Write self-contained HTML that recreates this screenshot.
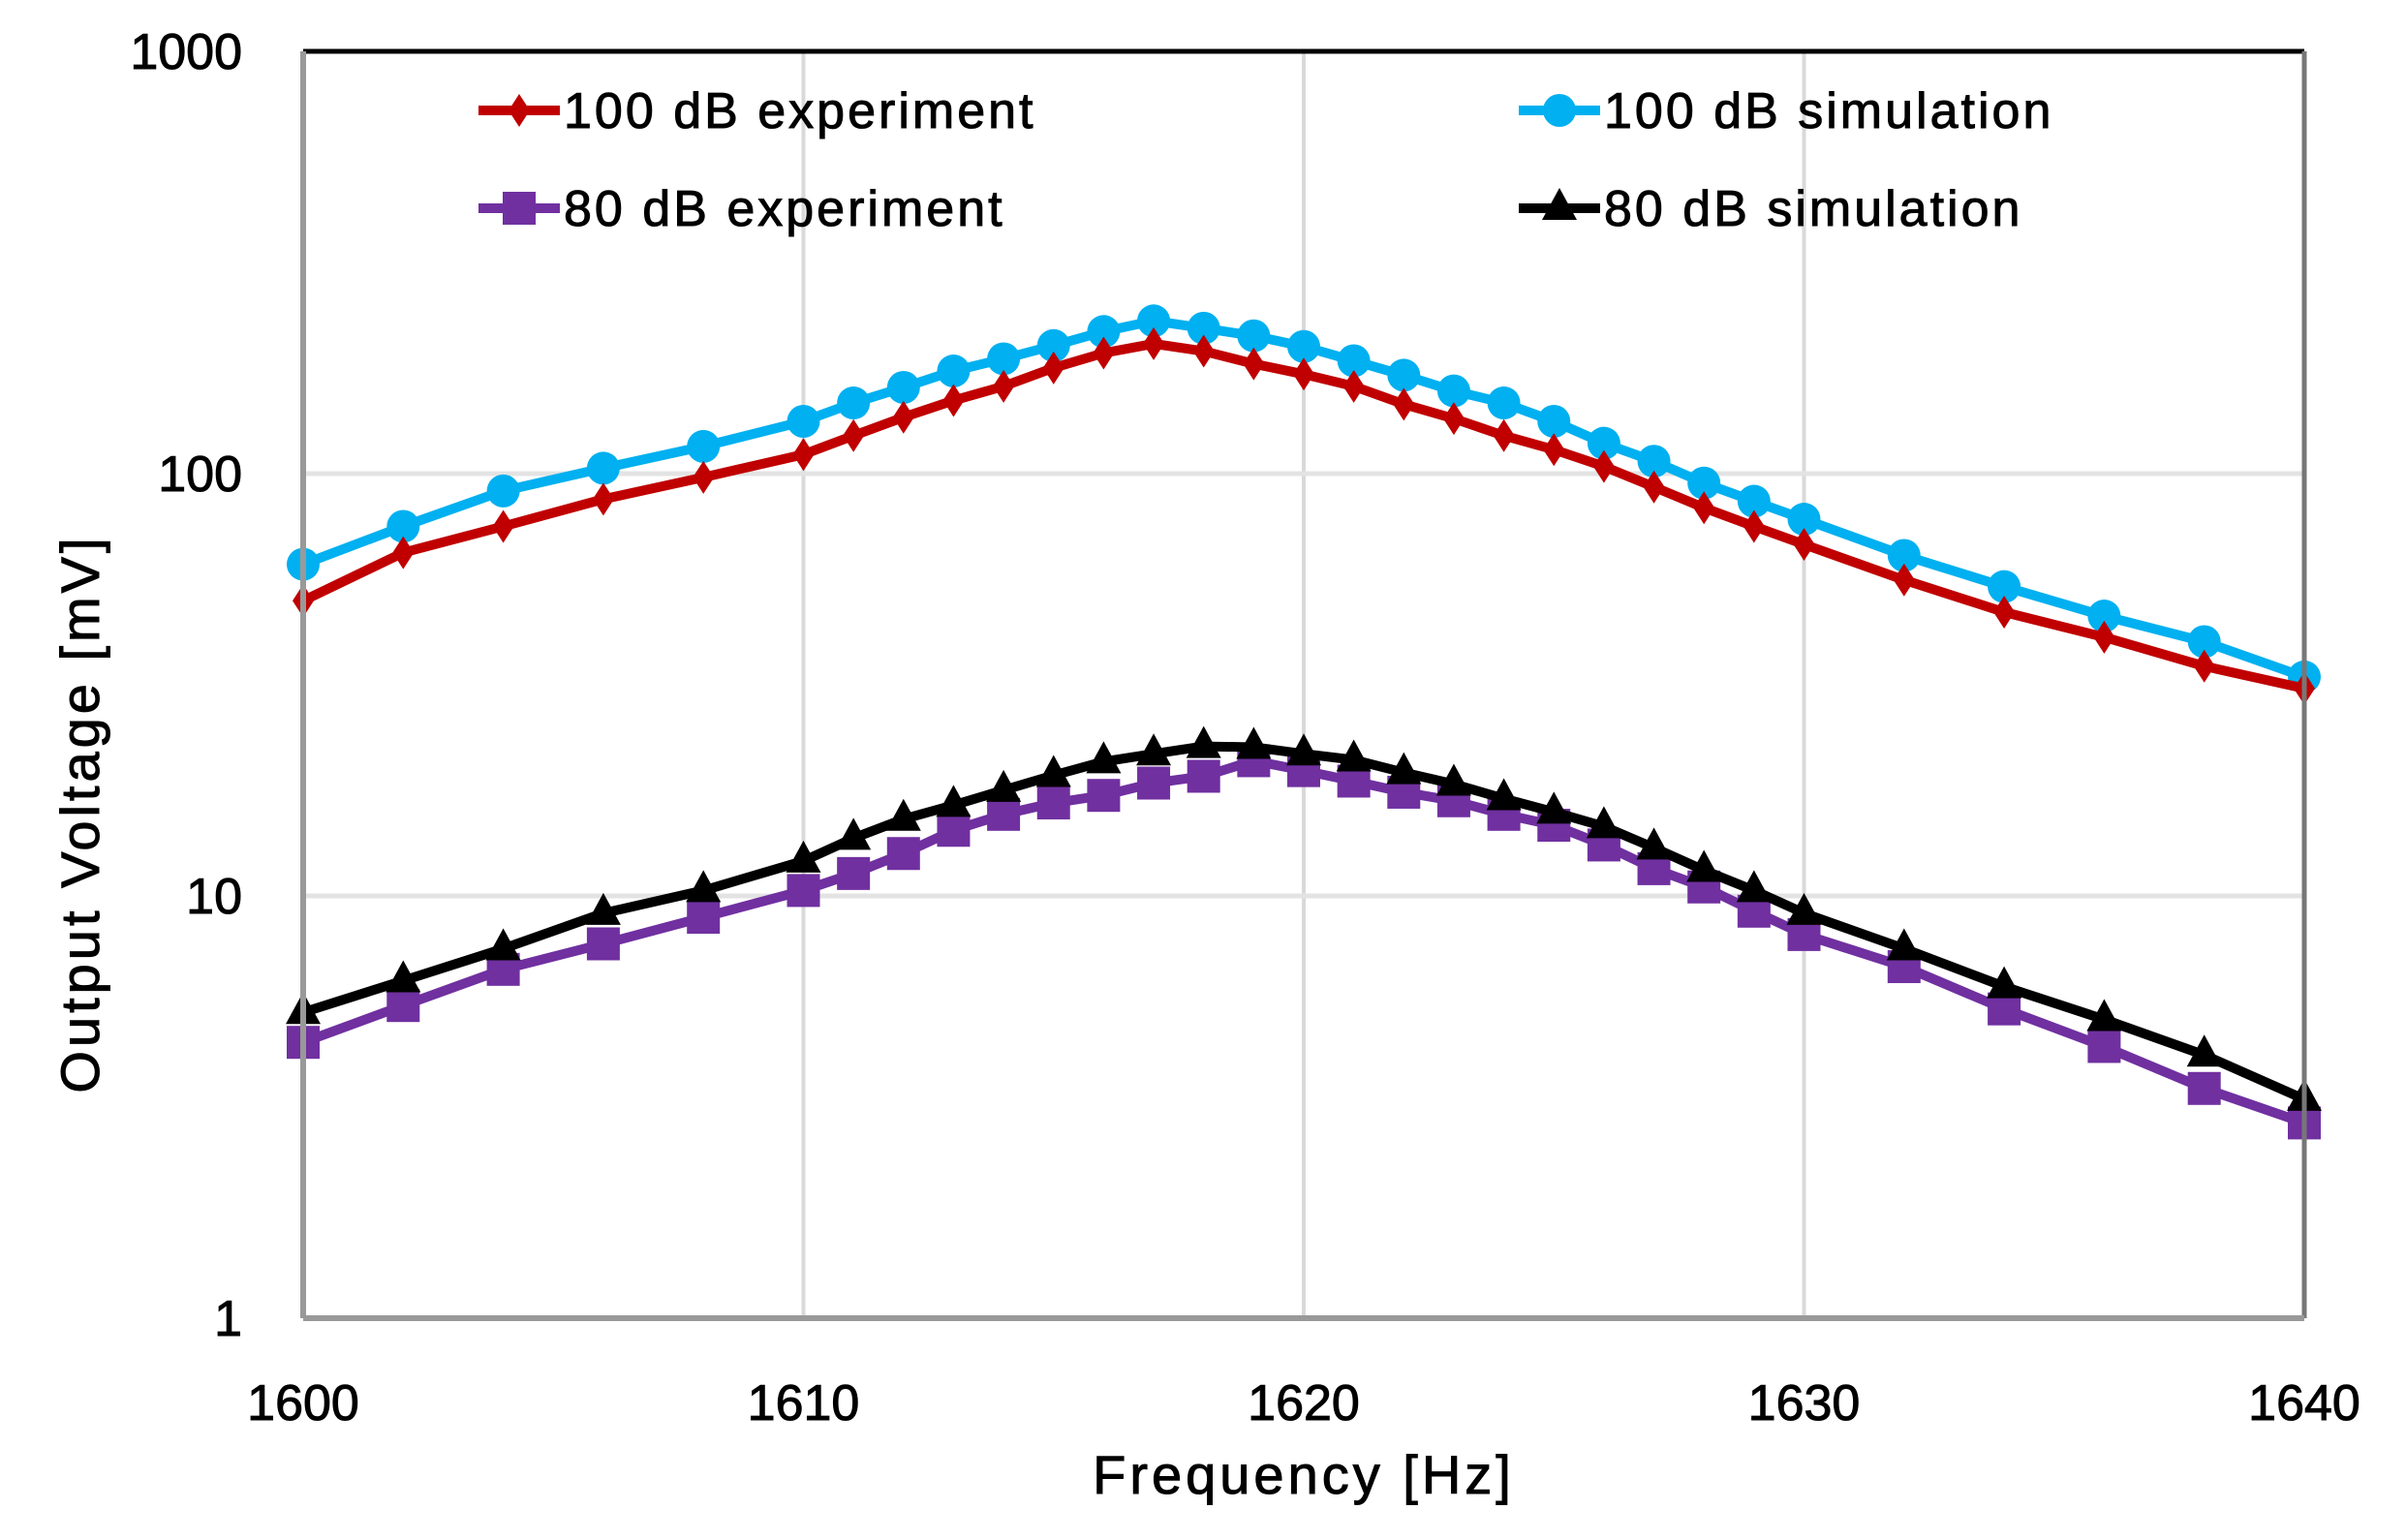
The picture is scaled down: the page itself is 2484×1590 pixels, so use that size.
<!DOCTYPE html>
<html><head><meta charset="utf-8"><style>
html,body{margin:0;padding:0;background:#fff;}
svg{display:block;font-family:"Liberation Sans Narrow","Liberation Sans",sans-serif;}
</style></head><body>
<svg id="chart" width="2484" height="1590" viewBox="0 0 2484 1590" xmlns="http://www.w3.org/2000/svg">
<rect width="2484" height="1590" fill="#fff"/>
<g id="grid"></g>
<g id="series"></g>
<g id="axes"></g>
<g id="legend"></g>
<text transform="translate(102,840) rotate(-90)" text-anchor="middle" font-size="56" fill="#000" stroke="#000" stroke-width="1" letter-spacing="4">Output Voltage [mV]</text>
<text x="1346" y="1542" text-anchor="middle" font-size="56" fill="#000" stroke="#000" stroke-width="1" letter-spacing="4">Frequency [Hz]</text>
</svg>
<script>
const freqs = [1600,1602,1604,1606,1608,1610,1611,1612,1613,1614,1615,1616,1617,1618,1619,1620,1621,1622,1623,1624,1625,1626,1627,1628,1629,1630,1632,1634,1636,1638,1640];
const exp100 = [50,65,75,87,98,111,123,136,149,161,178,193,203,195,182,172,161,146,135,123,114,104,93,83,75,68,56,47,41,35,31];
const sim100 = [61,75,91,103,116,133,147,160,175,187,201,217,230,221,212,200,185,171,157,147,133,118,107,95,86,78,64,54,46,40,33];
const exp80 = [4.5,5.5,6.7,7.7,8.9,10.3,11.3,12.6,14.3,15.6,16.6,17.3,18.5,19.2,20.9,19.8,18.7,17.6,16.8,15.6,14.7,13.2,11.6,10.5,9.2,8.1,6.8,5.4,4.4,3.5,2.9];
const sim80 = [5.3,6.3,7.5,9.1,10.3,12.1,13.7,15.2,16.4,17.8,19.3,20.8,21.7,22.6,22.5,21.7,21,19.6,18.4,17,15.8,14.6,13,11.5,10.3,9.1,7.5,6.1,5.1,4.2,3.3];
const xTicks = [1600,1610,1620,1630,1640];
const yTicks = [1,10,100,1000];

const NS='http://www.w3.org/2000/svg';
const L=313,R=2379,T=53,B=1361;
const xMin=1600,xMax=1640,yMin=0,yMax=3;
function xs(v){return L+(v-xMin)/(xMax-xMin)*(R-L);}
function ys(v){return B-(Math.log10(v)-yMin)/(yMax-yMin)*(B-T);}
function mk(tag,attrs,parent){const e=document.createElementNS(NS,tag);for(const k in attrs)e.setAttribute(k,attrs[k]);parent.appendChild(e);return e;}
const grid=document.getElementById('grid'),axes=document.getElementById('axes'),ser=document.getElementById('series'),leg=document.getElementById('legend');

xTicks.forEach(t=>{
  const g=mk('line',{x1:xs(t),x2:xs(t),y1:T,y2:B,stroke:'#d9d9d9','stroke-width':4},grid);
  
  
  const tx=mk('text',{x:xs(t),y:1466,'text-anchor':'middle','font-size':52,fill:'#000',stroke:'#000','stroke-width':1},axes);
  tx.textContent=t;
  
  
});
yTicks.forEach(t=>{
  const g=mk('line',{x1:L,x2:R,y1:ys(t),y2:ys(t),stroke:'#e3e3e3','stroke-width':5},grid);
  
  
  const tx=mk('text',{x:250,y:ys(t)+18,'text-anchor':'end','font-size':52,fill:'#000',stroke:'#000','stroke-width':1},axes);
  tx.textContent=t;
  
  
});
let f;
f=mk('line',{x1:L,x2:R,y1:T,y2:T,stroke:'#000','stroke-width':5},axes);

f=mk('line',{x1:R,x2:R,y1:T,y2:B,stroke:'#777','stroke-width':5},axes);

f=mk('line',{x1:L,x2:L,y1:T,y2:B,stroke:'#999','stroke-width':6},axes);

f=mk('line',{x1:L,x2:R,y1:B,y2:B,stroke:'#999','stroke-width':6},axes);


function marker(type,x,y,color,parent){
  let e;
  if(type==='diamond'){e=mk('path',{d:`M${x} ${y-17}L${x+11} ${y}L${x} ${y+17}L${x-11} ${y}Z`,fill:color},parent);}
  else if(type==='circle'){e=mk('circle',{cx:x,cy:y,r:17,fill:color},parent);}
  else if(type==='square'){e=mk('rect',{x:x-17,y:y-17,width:34,height:34,fill:color},parent);}
  else {e=mk('path',{d:`M${x} ${y-21}L${x+18} ${y+12}L${x-18} ${y+12}Z`,fill:color},parent);}
  return e;
}
const seriesDefs=[
  {name:'series-100db-simulation',data:sim100,color:'#00b0f0',m:'circle'},
  {name:'series-100db-experiment',data:exp100,color:'#c00000',m:'diamond'},
  {name:'series-80db-experiment',data:exp80,color:'#7030a0',m:'square'},
  {name:'series-80db-simulation',data:sim80,color:'#000000',m:'triangle'}
];
seriesDefs.forEach(s=>{
  const g=mk('g',{},ser);
  
  
  const pts=freqs.map((f,i)=>xs(f)+','+ys(s.data[i])).join(' ');
  const pl=mk('polyline',{points:pts,fill:'none',stroke:s.color,'stroke-width':10,'stroke-linejoin':'round'},g);
  
  
  freqs.forEach((f,i)=>{
    const m=marker(s.m,xs(f),ys(s.data[i]),s.color,g);
    
    
  });
});
const legDefs=[
  {label:'100 dB experiment',color:'#c00000',m:'diamond',x:494,y:114},
  {label:'80 dB experiment',color:'#7030a0',m:'square',x:494,y:215},
  {label:'100 dB simulation',color:'#00b0f0',m:'circle',x:1568,y:114},
  {label:'80 dB simulation',color:'#000000',m:'triangle',x:1568,y:215}
];
legDefs.forEach(d=>{
  const g=mk('g',{},leg);
  
  
  mk('line',{x1:d.x,x2:d.x+84,y1:d.y,y2:d.y,stroke:d.color,'stroke-width':10},g);
  marker(d.m,d.x+42,d.y,d.color,g);
  const t=mk('text',{x:d.x+88,y:d.y+18,'font-size':52,fill:'#000',stroke:'#000','stroke-width':1,'letter-spacing':3},g);
  t.textContent=d.label;
});
</script>
</body></html>
